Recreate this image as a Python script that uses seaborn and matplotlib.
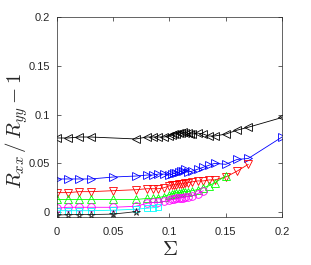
import matplotlib
matplotlib.use('Agg')
import matplotlib.pyplot as plt
import seaborn as sns

# series: (x, y)
x_left = [0, 0.01, 0.02, 0.03, 0.07, 0.08, 0.085, 0.09, 0.095, 0.1, 0.102, 0.104, 0.106, 0.108,
          0.11, 0.112, 0.114, 0.116, 0.118, 0.12, 0.125, 0.13, 0.135, 0.14, 0.15, 0.16, 0.17, 0.2]
y_left = [0.076, 0.076, 0.077, 0.077, 0.075, 0.077, 0.077, 0.077, 0.077, 0.078, 0.079, 0.080, 0.080, 0.081,
          0.081, 0.082, 0.081, 0.081, 0.080, 0.080, 0.081, 0.080, 0.078, 0.078, 0.080, 0.084, 0.087, 0.097]

x_right = [0, 0.01, 0.02, 0.03, 0.05, 0.07, 0.08, 0.085, 0.09, 0.095, 0.1, 0.102, 0.104, 0.106,
           0.108, 0.11, 0.112, 0.114, 0.116, 0.12, 0.125, 0.13, 0.135, 0.14, 0.15, 0.16, 0.17, 0.2]
y_right = [0.034, 0.034, 0.034, 0.034, 0.036, 0.037, 0.038, 0.038, 0.039, 0.039, 0.038, 0.039, 0.040, 0.040,
           0.041, 0.042, 0.042, 0.044, 0.041, 0.042, 0.044, 0.046, 0.048, 0.050, 0.049, 0.054, 0.055, 0.077]

x_down = [0, 0.01, 0.02, 0.03, 0.05, 0.07, 0.08, 0.085, 0.09, 0.095, 0.1, 0.102, 0.104, 0.106,
          0.108, 0.11, 0.112, 0.114, 0.116, 0.12, 0.125, 0.13, 0.135, 0.14, 0.15, 0.16, 0.17]
y_down = [0.020, 0.020, 0.021, 0.021, 0.022, 0.023, 0.024, 0.024, 0.024, 0.025, 0.027, 0.028, 0.028, 0.028,
          0.029, 0.029, 0.029, 0.030, 0.030, 0.031, 0.032, 0.032, 0.033, 0.033, 0.036, 0.042, 0.049]

x_up = [0, 0.01, 0.02, 0.03, 0.05, 0.07, 0.08, 0.085, 0.09, 0.095, 0.1, 0.102, 0.104, 0.106,
        0.108, 0.11, 0.112, 0.114, 0.116, 0.12, 0.125, 0.13, 0.135, 0.14, 0.15]
y_up = [0.013, 0.013, 0.013, 0.013, 0.013, 0.013, 0.014, 0.014, 0.015, 0.016, 0.018, 0.019, 0.019, 0.020,
        0.020, 0.020, 0.021, 0.021, 0.021, 0.022, 0.023, 0.025, 0.027, 0.030, 0.037]

x_circ = [0, 0.01, 0.02, 0.03, 0.05, 0.07, 0.08, 0.085, 0.09, 0.095, 0.1, 0.102, 0.104, 0.106,
          0.108, 0.11, 0.112, 0.114, 0.116, 0.12, 0.125, 0.13]
y_circ = [0.004, 0.005, 0.005, 0.005, 0.005, 0.006, 0.009, 0.010, 0.010, 0.011, 0.012, 0.013, 0.013, 0.014,
          0.014, 0.015, 0.015, 0.016, 0.016, 0.017, 0.019, 0.022]

x_sq = [0, 0.01, 0.02, 0.03, 0.05, 0.07, 0.08, 0.085, 0.09]
y_sq = [0.0015, 0.0015, 0.0015, 0.0015, 0.002, 0.003, 0.004, 0.0045, 0.005]

x_star = [0, 0.01, 0.02, 0.03, 0.05, 0.07]
y_star = [-0.003, -0.0025, -0.0025, -0.0025, -0.002, 0.0005]

series = [
    (x_left, y_left, '<', 'k'),
    (x_right, y_right, '>', 'b'),
    (x_down, y_down, 'v', 'r'),
    (x_up, y_up, '^', 'lime'),
    (x_circ, y_circ, 'o', 'magenta'),
    (x_sq, y_sq, 's', 'cyan'),
    (x_star, y_star, '*', '#222222'),
]

sns.set_style('ticks')
plt.rcParams['mathtext.fontset'] = 'cm'
plt.rcParams['font.family'] = ['Liberation Sans', 'DejaVu Sans']

fig = plt.figure(figsize=(3.11, 2.65), dpi=100)
ax = fig.add_axes([0.183, 0.181, 0.724, 0.755])

sizes = {'<': 6.2, '>': 6.2, 'v': 6.2, '^': 6.2, 'o': 5.5, 's': 5, '*': 5.5}
for xs, ys, m, c in series:
    sns.lineplot(x=xs, y=ys, ax=ax, color=c, marker=m, markersize=sizes[m],
                 markerfacecolor='none', markeredgecolor=c, markeredgewidth=0.6,
                 linewidth=0.6, sort=False)

ax.set_xlim(0, 0.2)
ax.set_ylim(-0.005, 0.2)
ax.set_xticks([0, 0.05, 0.1, 0.15, 0.2])
ax.set_xticklabels(['0', '0.05', '0.1', '0.15', '0.2'])
ax.set_yticks([0, 0.05, 0.1, 0.15, 0.2])
ax.set_yticklabels(['0', '0.05', '0.1', '0.15', '0.2'])
ax.tick_params(direction='in', length=3, width=0.5, labelsize=8, colors='#262626',
               top=True, right=True)
ax.tick_params(axis='x', pad=7)
ax.tick_params(axis='y', pad=5)
for s in ax.spines.values():
    s.set_linewidth(0.5)
    s.set_color('#262626')

ax.set_xlabel(r'$\Sigma$', fontsize=15, labelpad=2)
ax.set_ylabel(r'$R_{xx}\,/\,R_{yy}-1$', fontsize=15)
ax.yaxis.set_label_coords(-0.12, 0.43)

fig.savefig('out.png', dpi=100)
